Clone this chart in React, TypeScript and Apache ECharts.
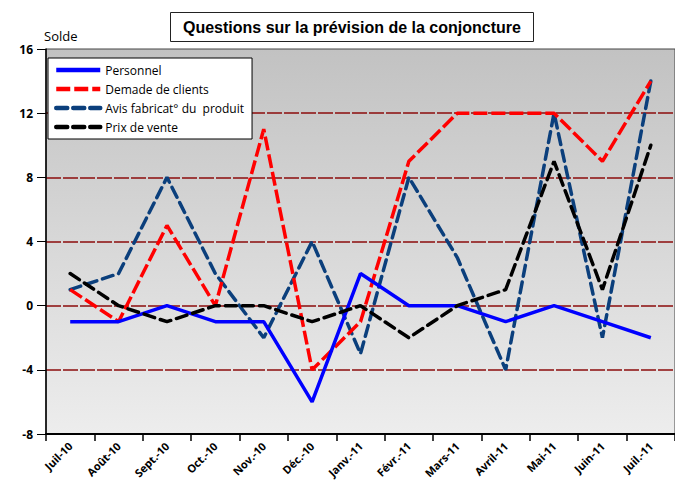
import React, { useEffect, useRef } from "react";
import * as echarts from "echarts";

const categories = ["Juil-10", "Août-10", "Sept.-10", "Oct.-10", "Nov.-10", "Déc.-10", "Janv.-11", "Févr.-11", "Mars-11", "Avril-11", "Mai-11", "Juin-11", "Juil.-11"];
const personnel = [-1, -1, 0, -1, -1, -6, 2, 0, 0, -1, 0, -1, -2];
const demande = [1, -1, 5, 0, 11, -4, -1, 9, 12, 12, 12, 9, 14];
const avis = [1, 2, 8, 2, -2, 4, -3, 8, 3, -4, 12, -2, 14];
const prix = [2, 0, -1, 0, 0, -1, 0, -2, 0, 1, 9, 1, 10];
const yTicks = { min: -8, max: 16, interval: 4 };

export default function App() {
  const ref = useRef<HTMLDivElement>(null);
  useEffect(() => {
    if (!ref.current) return;
    const chart = echarts.init(ref.current, null, { renderer: "svg" });
    const font = "'Open Sans', sans-serif";
    chart.setOption({
      animation: false,
      backgroundColor: "#ffffff",
      title: {
        text: "Questions sur la prévision de la conjoncture",
        left: 170,
        top: 12,
        borderColor: "#222",
        borderWidth: 1,
        padding: [7, 13, 7, 13],
        textStyle: { fontFamily: "'Liberation Sans', Arial, sans-serif", fontWeight: "bold", fontSize: 16, color: "#000" },
      },
      graphic: [
        { type: "text", left: 44, top: 29, style: { text: "Solde", font: "13px 'Open Sans', sans-serif", fill: "#000" } },
      ],
      legend: {
        orient: "vertical",
        left: 48,
        top: 58,
        backgroundColor: "#ffffff",
        borderColor: "#000",
        borderWidth: 1,
        padding: [6, 8, 6, 6],
        itemWidth: 44,
        itemHeight: 10,
        itemGap: 7,
        itemStyle: { opacity: 0, borderWidth: 0 },
        lineStyle: { width: 4.5 },
        textStyle: { fontFamily: font, fontSize: 12, color: "#000" },
        data: ["Personnel", "Demade de clients", "Avis fabricat° du  produit", "Prix de vente"],
      },
      grid: {
        left: 46,
        top: 49,
        right: -9,
        bottom: 61,
        show: true,
        borderColor: "#444",
        borderWidth: 1,
        backgroundColor: new echarts.graphic.LinearGradient(0, 0, 0, 1, [
          { offset: 0, color: "#c2c2c2" },
          { offset: 1, color: "#ededed" },
        ]),
      },
      xAxis: {
        type: "category",
        data: categories,
        boundaryGap: true,
        axisLine: { onZero: false, lineStyle: { color: "#000", width: 2 } },
        axisTick: { show: true, length: 7, lineStyle: { color: "#000", width: 1.5 } },
        axisLabel: { rotate: 45, fontFamily: font, fontWeight: "bold", fontSize: 11, color: "#000", margin: 10, interval: 0 },
        splitLine: { show: false },
      },
      yAxis: {
        type: "value",
        min: yTicks.min,
        max: yTicks.max,
        interval: yTicks.interval,
        axisLine: { show: true, lineStyle: { color: "#000", width: 1.5 } },
        axisTick: { show: true, length: 9, lineStyle: { color: "#000" } },
        axisLabel: { fontFamily: font, fontWeight: "bold", fontSize: 12, color: "#000", margin: 13 },
        splitLine: { show: true, showMinLine: false, showMaxLine: false, lineStyle: { color: "#8c0c0c", type: [15, 2], width: 1.6 } },
      },
      series: [
        {
          name: "Personnel",
          type: "line",
          data: personnel,
          symbol: "none",
          lineStyle: { color: "#0000ff", width: 3.5 },
          itemStyle: { color: "#0000ff" },
          z: 4,
        },
        {
          name: "Demade de clients",
          type: "line",
          data: demande,
          symbol: "none",
          lineStyle: { color: "#ff0000", width: 3.5, type: [14, 4] },
          itemStyle: { color: "#ff0000" },
          z: 3,
        },
        {
          name: "Avis fabricat° du  produit",
          type: "line",
          data: avis,
          symbol: "none",
          lineStyle: { color: "#0b3f7c", width: 3.5, type: [11, 6], cap: "round" },
          itemStyle: { color: "#0b3f7c" },
          z: 2,
        },
        {
          name: "Prix de vente",
          type: "line",
          data: prix,
          symbol: "none",
          lineStyle: { color: "#000000", width: 3.5, type: [11, 6], cap: "round" },
          itemStyle: { color: "#000000" },
          z: 5,
        },
      ],
    });
    return () => chart.dispose();
  }, []);
  return <div ref={ref} style={{ width: 675, height: 495, position: "absolute", left: 0, top: 0 }} />;
}
